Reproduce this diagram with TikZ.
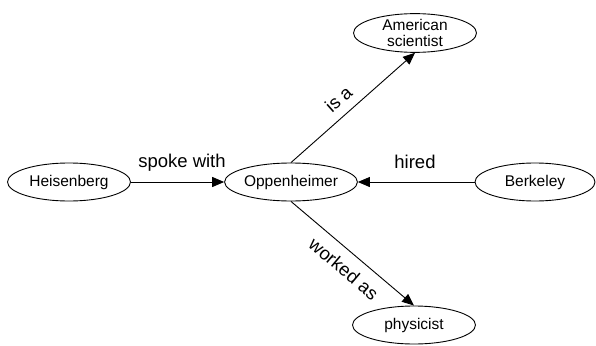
\documentclass[tikz,border=0pt]{standalone}
\usepackage{fontspec}
\setmainfont{Liberation Sans}
\usetikzlibrary{shapes.geometric,arrows.meta}
\begin{document}
\begin{tikzpicture}[x=1pt,y=-1pt,
  concept/.style={draw,ellipse,line width=0.9pt,minimum width=123pt,minimum height=38pt,inner sep=0pt,font=\fontsize{15.5}{16}\selectfont,align=center},
  rel/.style={draw,line width=0.9pt,-{Triangle[length=12pt,width=10pt]}},
  lab/.style={font=\fontsize{18.5}{20}\selectfont,inner sep=1pt}]
\useasboundingbox (0,0) rectangle (596,345);
\node[concept] (heis) at (69,182) {Heisenberg};
\node[concept,minimum width=119pt] (opp) at (291,182) {Oppenheimer};
\node[concept,minimum width=120pt] (berk) at (535,182) {Berkeley};
\node[concept,minimum height=37pt] (am) at (415,33) {American\\scientist};
\node[concept] (phys) at (414,325) {physicist};
\draw[rel] (heis) -- (opp);
\draw[rel] (berk) -- (opp);
\draw[rel] (opp.north) -- node[lab,sloped,above=8pt,pos=0.47] (l3) {is a} (am.south);
\draw[rel] (opp.south) -- node[lab,sloped,below=9pt,pos=0.52] (l4) {worked as} (phys.north);
\node[lab] (l1) at (182,163) {spoke with};
\node[lab] (l2) at (415,162) {hired};
\end{tikzpicture}
\end{document}
